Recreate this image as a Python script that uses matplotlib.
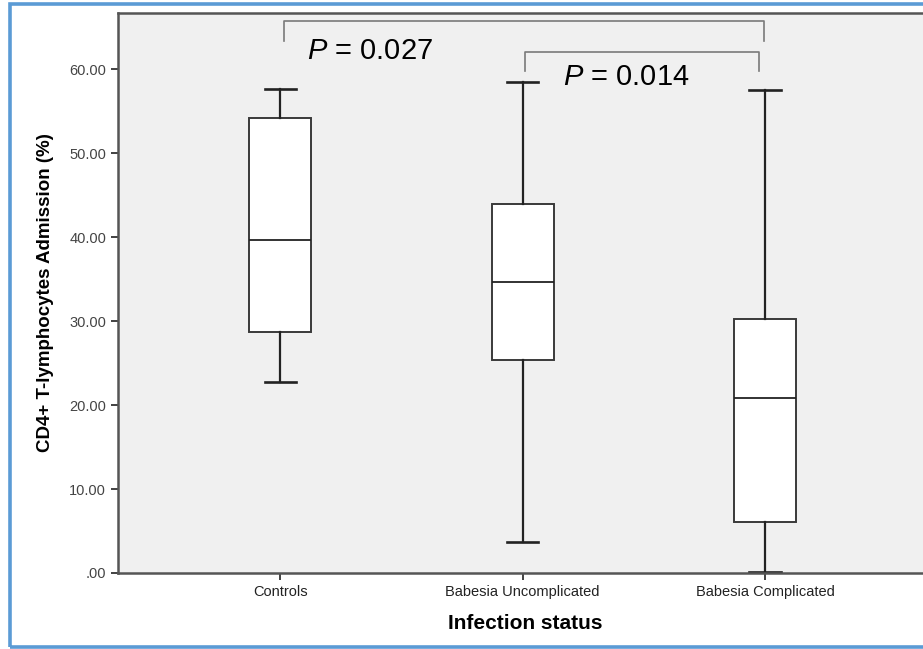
import matplotlib
matplotlib.use("Agg")
import matplotlib.pyplot as plt
from matplotlib.patches import Rectangle

plt.rcParams["mathtext.fontset"] = "custom"
plt.rcParams["mathtext.rm"] = "Liberation Sans"
plt.rcParams["mathtext.it"] = "Liberation Sans:italic"

categories = ["Controls", "Babesia Uncomplicated", "Babesia Complicated"]
whisker_low = [22.7, 3.7, 0.15]
q1 = [28.7, 25.4, 6.1]
median = [39.7, 34.7, 20.9]
q3 = [54.2, 43.9, 30.2]
whisker_high = [57.7, 58.5, 57.5]
y_ticks = [0, 10, 20, 30, 40, 50, 60]
y_tick_labels = [".00", "10.00", "20.00", "30.00", "40.00", "50.00", "60.00"]
comparisons = [(1, 3, "0.027"), (2, 3, "0.014")]

fig = plt.figure(figsize=(9.23, 6.49), dpi=100)
ax = fig.add_axes([118 / 923, 76 / 649, (923 - 118) / 923 + 0.01, (573 - 13) / 649])
ax.set_facecolor("#f0f0f0")

stats = []
for i, c in enumerate(categories):
    stats.append(dict(label=c, whislo=whisker_low[i], q1=q1[i], med=median[i],
                      q3=q3[i], whishi=whisker_high[i], fliers=[]))
positions = [1, 2, 3]
ax.bxp(stats, positions=positions, widths=0.255, showfliers=False, patch_artist=True,
       boxprops=dict(facecolor="white", edgecolor="#3a3a3a", linewidth=1.4),
       medianprops=dict(color="#222222", linewidth=1.3),
       whiskerprops=dict(color="#222222", linewidth=1.6),
       capprops=dict(color="#222222", linewidth=1.9),
       capwidths=0.13)

ax.set_xlim(0.33, 3.69)
ax.set_ylim(0, 66.7)
ax.set_yticks(y_ticks)
ax.set_yticklabels(y_tick_labels, fontsize=10.5, color="#444444", family="Liberation Sans")
ax.set_xticks(positions)
ax.set_xticklabels(categories, fontsize=10.5, color="#222222", family="Liberation Sans")
ax.tick_params(axis="both", length=5, width=1.3, color="#333333")
for s in ["left", "bottom", "top"]:
    ax.spines[s].set_color("#555555")
    ax.spines[s].set_linewidth(1.8)
ax.spines["right"].set_visible(False)

ax.set_ylabel("CD4+ T-lymphocytes Admission (%)", fontsize=13.5, fontweight="bold",
              family="Liberation Sans", labelpad=11)
ax.set_xlabel("Infection status", fontsize=15, fontweight="bold",
              family="Liberation Sans", labelpad=11)

# significance brackets
bracket_specs = [(65.8, 63.4, 1.017, 2.996), (62.0, 59.8, 2.01, 2.975)]
for (ytop, yend, xa, xb) in bracket_specs:
    ax.plot([xa, xa, xb, xb], [yend, ytop, ytop, yend], color="#7a7a7a", lw=1.2,
            solid_joinstyle="round")
text_specs = [(1.11, 62.2), (2.165, 59.1)]
for (a, b, p), (tx, ty) in zip(comparisons, text_specs):
    ax.text(tx, ty, r"$\it{P}$ = " + p, fontsize=21, family="Liberation Sans",
            ha="left", va="center", color="black")

# blue frame around figure
fig.patches.append(Rectangle((9.5 / 923, 2 / 649), 1.2, 643 / 649, transform=fig.transFigure,
                             fill=False, edgecolor="#5b9bd5", linewidth=2.6))

fig.savefig("out.png", dpi=100)
